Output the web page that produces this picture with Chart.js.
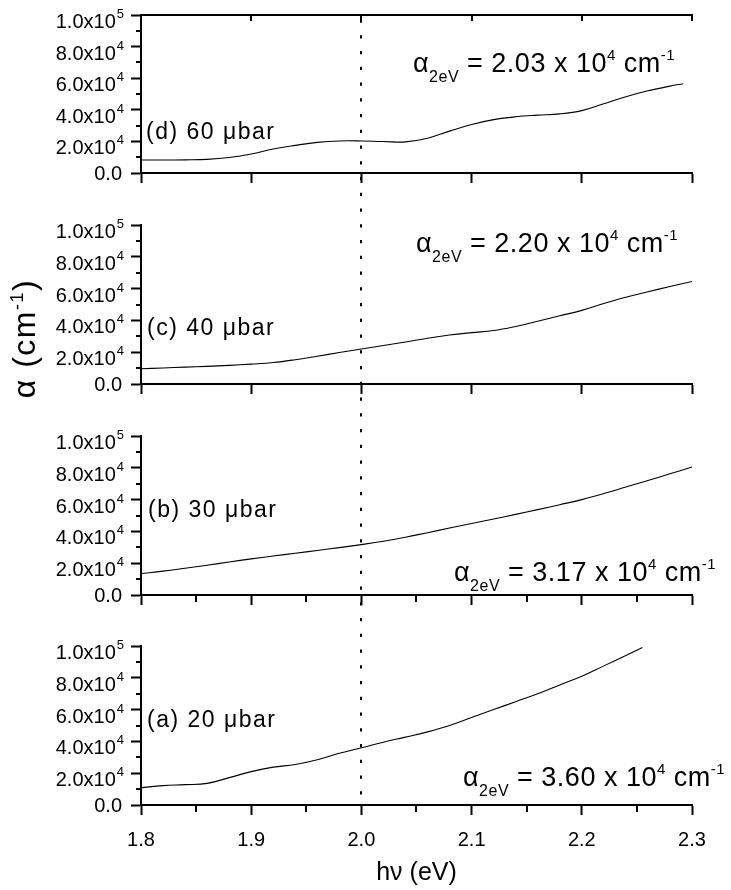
<!DOCTYPE html>
<html>
<head>
<meta charset="utf-8">
<script src="https://cdn.jsdelivr.net/npm/chart.js@4"></script>
<style>
  html, body { margin: 0; padding: 0; background: #fff; }
  #figure { position: relative; width: 731px; height: 890px; }
  #figure canvas { position: absolute; left: 0; }
</style>
</head>
<body>
<div id="figure">
  <canvas id="panelD" width="731" height="199" style="top:0px"></canvas>
  <canvas id="panelC" width="731" height="211" style="top:199px"></canvas>
  <canvas id="panelB" width="731" height="210" style="top:410px"></canvas>
  <canvas id="panelA" width="731" height="270" style="top:620px"></canvas>
</div>
<script>
// photon energy (eV) and absorption coefficient alpha (cm^-1) for each pressure
const energyGrid = [1.80, 1.82, 1.84, 1.86, 1.88, 1.90, 1.92, 1.94, 1.96, 1.98, 2.00, 2.02, 2.04,
                    2.06, 2.08, 2.10, 2.12, 2.14, 2.16, 2.18, 2.20, 2.22, 2.24, 2.26, 2.28, 2.30];
const energyD = [1.80, 1.82, 1.84, 1.86, 1.88, 1.90, 1.92, 1.94, 1.96, 1.98, 2.00, 2.02, 2.04,
                 2.06, 2.08, 2.10, 2.12, 2.14, 2.16, 2.18, 2.20, 2.22, 2.24, 2.26, 2.28, 2.292];
const energyA = [1.80, 1.82, 1.84, 1.86, 1.88, 1.90, 1.92, 1.94, 1.96, 1.98, 2.00, 2.02, 2.04,
                 2.06, 2.08, 2.10, 2.12, 2.14, 2.16, 2.18, 2.20, 2.22, 2.24, 2.255];

const alphaD = [8200, 8200, 8300, 8600, 9800, 12000, 15200, 17500, 19400, 20300, 20300, 19900, 19700,
                22000, 26500, 30700, 33800, 35600, 36600, 37400, 39500, 43800, 48300, 52000, 55000, 56500];
const alphaC = [9600, 10100, 10600, 11100, 11700, 12500, 13500, 15300, 17500, 19800, 22000, 24200, 26400,
                28800, 30800, 32300, 33600, 36200, 39500, 42900, 46300, 50600, 54600, 58000, 61300, 64500];
const alphaB = [13500, 15000, 16800, 18700, 20800, 22700, 24500, 26300, 28000, 29800, 31700, 33800, 36300,
                39200, 42100, 45000, 47800, 50700, 53700, 56800, 60000, 63800, 67900, 72000, 76200, 80500];
const alphaA = [10900, 12200, 12800, 13600, 17200, 21000, 23800, 25500, 28500, 32500, 36000, 39500, 42700,
                46000, 50000, 55000, 60000, 65000, 70000, 75500, 81000, 87500, 94000, 99000];

// alpha at 2 eV as quoted in each panel
const alpha2eVText = { a: '3.60', b: '3.17', c: '2.20', d: '2.03' };

const xTickValues = [1.8, 1.9, 2.0, 2.1, 2.2, 2.3];
const xTickLabels = ['1.8', '1.9', '2.0', '2.1', '2.2', '2.3'];
const xMinorValues = [1.85, 1.95, 2.05, 2.15, 2.25];
const yTickValues = [0, 20000, 40000, 60000, 80000, 100000];
const yTickBase = ['0.0', '2.0x10', '4.0x10', '6.0x10', '8.0x10', '1.0x10'];
const yTickExp = ['', '4', '4', '4', '4', '5'];
const yMinorValues = [10000, 30000, 50000, 70000, 90000];
const markerEnergy = 2.0;

const FONT = '"Liberation Sans", Arial, Helvetica, sans-serif';
Chart.defaults.font.family = FONT;
Chart.defaults.color = '#000';

// dotted marker line runs from the top of panel (d) to the bottom of panel (a)
const DOT_START = 19.5, DOT_PERIOD = 15.75, DOT_LEN = 3.3;

// draw a run of text pieces with their own size and baseline shift
function drawRuns(ctx, x, y, runs) {
  runs.forEach(function (r) {
    ctx.font = r[1] + 'px ' + FONT;
    ctx.fillText(r[0], x, y + r[2]);
    x += ctx.measureText(r[0]).width;
  });
  return x;
}

function runsWidth(ctx, runs) {
  let w = 0;
  runs.forEach(function (r) {
    ctx.font = r[1] + 'px ' + FONT;
    w += ctx.measureText(r[0]).width;
  });
  return w;
}

function decor(panel) {
  return {
    id: 'decor',
    afterDraw: function (chart) {
      const ctx = chart.ctx;
      const xs = chart.scales.x, ys = chart.scales.y;
      const area = chart.chartArea;
      ctx.save();
      ctx.fillStyle = '#000';
      ctx.strokeStyle = '#000';
      ctx.lineWidth = 2;

      // minor ticks on the left axis
      yMinorValues.forEach(function (v) {
        const py = Math.round(ys.getPixelForValue(v));
        ctx.beginPath();
        ctx.moveTo(area.left - 5, py);
        ctx.lineTo(area.left, py);
        ctx.stroke();
      });
      // minor ticks on the energy axis
      if (panel.minorX) {
        xMinorValues.forEach(function (v) {
          const px = Math.round(xs.getPixelForValue(v));
          ctx.beginPath();
          ctx.moveTo(px, area.bottom);
          ctx.lineTo(px, area.bottom + 7);
          ctx.stroke();
        });
      }
      // frame line with inward ticks along the top panel
      if (panel.frameTop) {
        const top = Math.round(area.top);
        ctx.beginPath();
        ctx.moveTo(area.left - 1, top);
        ctx.lineTo(Math.round(xs.getPixelForValue(2.3)) + 1, top);
        ctx.stroke();
        xTickValues.slice(1).forEach(function (v) {
          const px = Math.round(xs.getPixelForValue(v));
          ctx.beginPath();
          ctx.moveTo(px, top);
          ctx.lineTo(px, top + 6);
          ctx.stroke();
        });
      }

      // y tick labels with powers of ten
      ctx.textAlign = 'right';
      ctx.textBaseline = 'alphabetic';
      yTickValues.forEach(function (v, i) {
        const py = ys.getPixelForValue(v);
        let right = 124;
        if (yTickExp[i]) {
          ctx.font = '13px ' + FONT;
          ctx.fillText(yTickExp[i], right, py + 3);
          right -= ctx.measureText(yTickExp[i]).width + 1;
          ctx.font = '20px ' + FONT;
          ctx.fillText(yTickBase[i], right, py + 13);
        } else {
          ctx.font = '20px ' + FONT;
          ctx.fillText(yTickBase[i], 122, py + 7);
        }
      });

      // pressure label
      ctx.textAlign = 'left';
      ctx.letterSpacing = '1.5px';
      ctx.font = '23px ' + FONT;
      ctx.fillText(panel.label, panel.labelX, panel.labelY);

      // alpha at 2 eV
      ctx.letterSpacing = '0.5px';
      drawRuns(ctx, panel.noteX, panel.noteY, [
        ['α', 27, 0], ['2eV', 16, 10], [' = ' + alpha2eVText[panel.key] + ' x 10', 27, 0],
        ['4', 15, -12], [' cm', 27, 0], ['-1', 15, -12]
      ]);

      // shared axis title, drawn once in panel (c)
      if (panel.yTitle) {
        const runs = [['α (cm', 32, 0], ['-1', 18, -12], [')', 32, 0]];
        ctx.letterSpacing = '1.5px';
        const w = runsWidth(ctx, runs);
        ctx.translate(35, panel.yTitle);
        ctx.rotate(-Math.PI / 2);
        drawRuns(ctx, -w / 2, 0, runs);
        ctx.setTransform(1, 0, 0, 1, 0, 0);
      }
      ctx.letterSpacing = '0px';

      // dotted line at 2 eV
      const px = Math.round(xs.getPixelForValue(markerEnergy));
      const from = panel.frameTop ? area.top : 0;
      const to = panel.showX ? area.bottom : chart.height;
      const phase = panel.offset + from - DOT_START;
      ctx.setLineDash([DOT_LEN, DOT_PERIOD - DOT_LEN]);
      ctx.lineDashOffset = ((phase % DOT_PERIOD) + DOT_PERIOD) % DOT_PERIOD;
      ctx.beginPath();
      ctx.moveTo(px, from);
      ctx.lineTo(px, to);
      ctx.stroke();
      ctx.restore();
    }
  };
}

const panels = [
  { key: 'd', canvasId: 'panelD', offset: 0, energy: energyD, alpha: alphaD, areaTop: 15, axisHeight: 26,
    minorX: false, frameTop: true, showX: false, label: '(d) 60 μbar', labelX: 146, labelY: 139,
    noteX: 413, noteY: 72 },
  { key: 'c', canvasId: 'panelC', offset: 199, energy: energyGrid, alpha: alphaC, areaTop: 26, axisHeight: 26,
    minorX: false, frameTop: false, showX: false, label: '(c) 40 μbar', labelX: 147, labelY: 136,
    noteX: 416, noteY: 53, yTitle: 139.5 },
  { key: 'b', canvasId: 'panelB', offset: 410, energy: energyGrid, alpha: alphaB, areaTop: 26, axisHeight: 25,
    minorX: true, frameTop: false, showX: false, label: '(b) 30 μbar', labelX: 148, labelY: 107,
    noteX: 454, noteY: 171 },
  { key: 'a', canvasId: 'panelA', offset: 620, energy: energyA, alpha: alphaA, areaTop: 26, axisHeight: 85,
    minorX: true, frameTop: false, showX: true, label: '(a) 20 μbar', labelX: 147, labelY: 107,
    noteX: 463, noteY: 166 }
];

panels.forEach(function (panel) {
  const ctx = document.getElementById(panel.canvasId).getContext('2d');
  new Chart(ctx, {
    type: 'line',
    data: {
      datasets: [{
        data: panel.energy.map(function (e, i) { return { x: e, y: panel.alpha[i] }; }),
        borderColor: '#000',
        borderWidth: 1.1,
        pointRadius: 0,
        tension: 0.4,
        fill: false
      }]
    },
    options: {
      responsive: false,
      animation: false,
      events: [],
      layout: { padding: { top: panel.areaTop, right: 39, left: 0, bottom: 0 } },
      plugins: { legend: { display: false }, tooltip: { enabled: false } },
      scales: {
        x: {
          type: 'linear',
          position: 'bottom',
          min: 1.8,
          max: 2.3,
          afterBuildTicks: function (s) { s.ticks = xTickValues.map(function (v) { return { value: v }; }); },
          afterFit: function (s) { s.height = panel.axisHeight; },
          border: { color: '#000', width: 2 },
          grid: { drawOnChartArea: false, drawTicks: true, tickLength: 10, tickWidth: 2, tickColor: '#000' },
          ticks: {
            display: panel.showX, padding: 13, color: '#000', font: { size: 20 },
            maxRotation: 0, autoSkip: false,
            callback: function (v, i) { return xTickLabels[i]; }
          },
          title: {
            display: panel.showX, text: 'hν (eV)', color: '#000',
            font: { size: 25 }, padding: { top: 0, bottom: 2 }
          }
        },
        y: {
          min: 0,
          max: 100000,
          afterBuildTicks: function (s) { s.ticks = yTickValues.map(function (v) { return { value: v }; }); },
          afterFit: function (s) { s.width = 141; },
          border: { color: '#000', width: 2 },
          grid: { drawOnChartArea: false, drawTicks: true, tickLength: 10, tickWidth: 2, tickColor: '#000' },
          ticks: { display: false }
        }
      }
    },
    plugins: [decor(panel)]
  });
});
</script>
</body>
</html>
